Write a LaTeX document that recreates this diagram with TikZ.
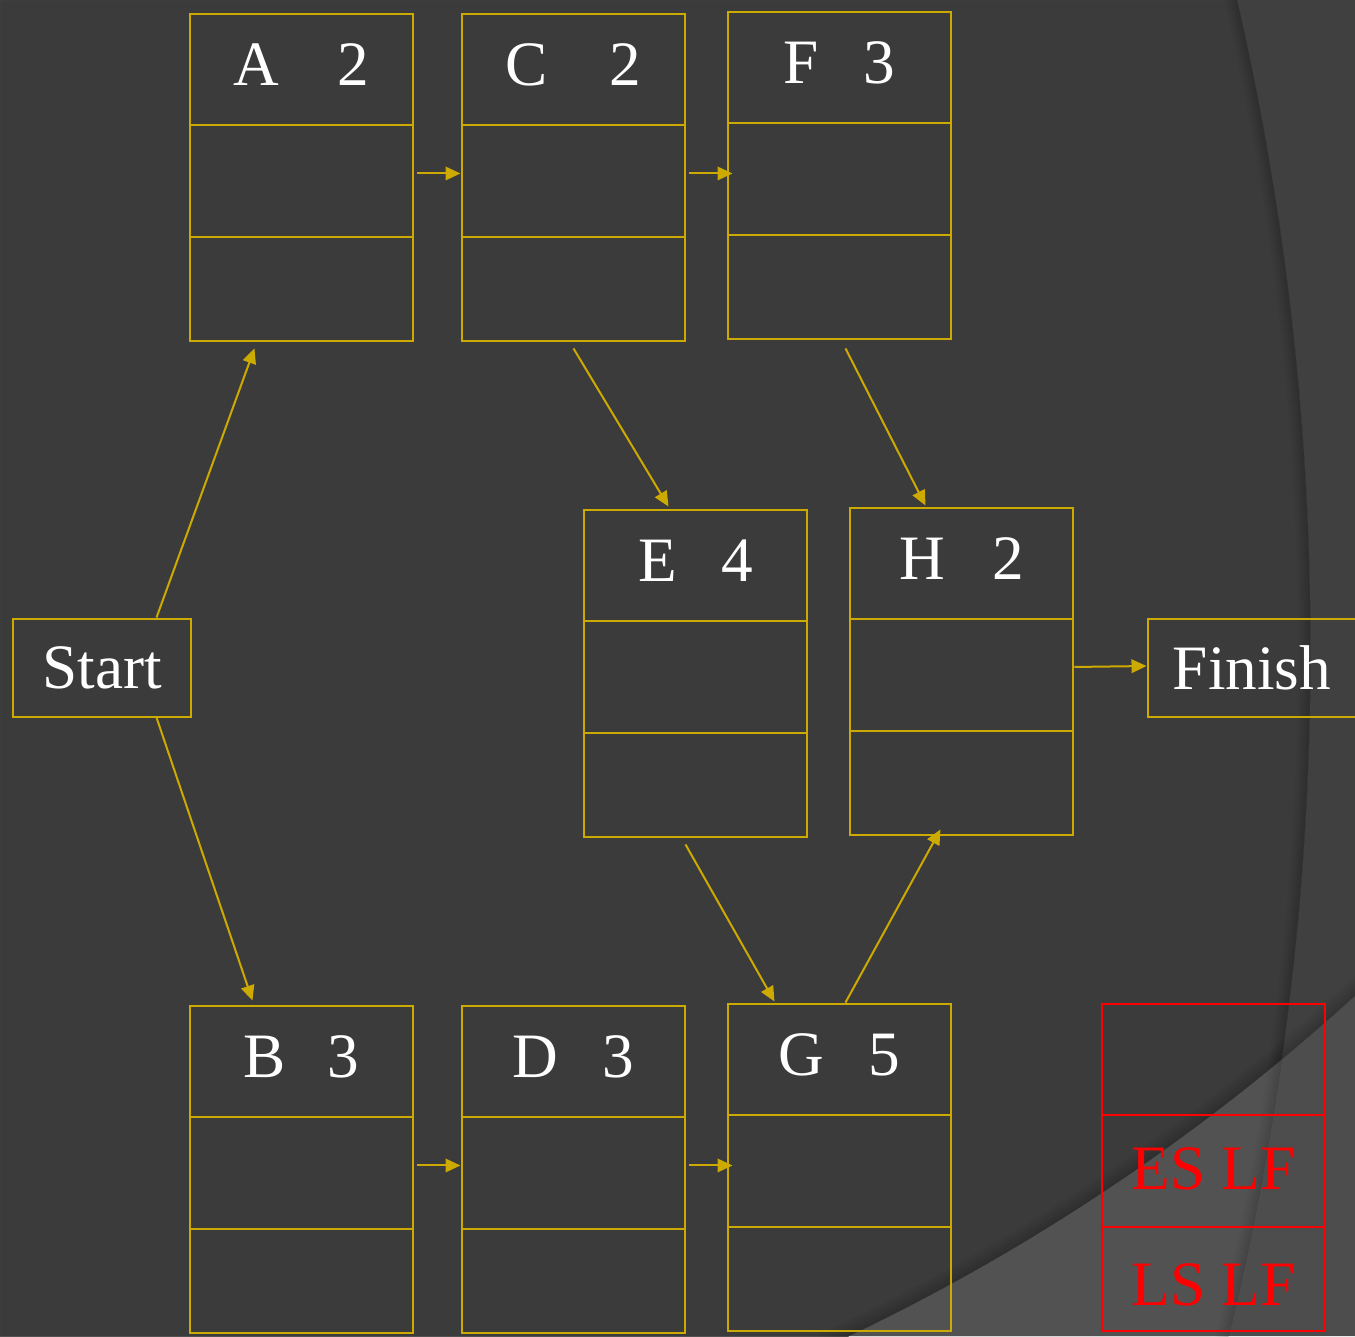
\documentclass[tikz,border=0pt]{standalone}
\usepackage{fontspec}
\setmainfont{Liberation Serif}
\usetikzlibrary{arrows.meta,calc}
\definecolor{bgA}{RGB}{59,59,59}
\definecolor{bgB}{RGB}{64,64,64}
\definecolor{bgC}{RGB}{82,82,82}
\definecolor{bgD}{RGB}{77,77,77}
\definecolor{gold}{RGB}{205,170,0}
\definecolor{legred}{RGB}{255,0,0}
\begin{document}
\begin{tikzpicture}[x=0.02cm,y=-0.02cm,
  actbox/.style={draw=gold,line width=0.04cm,minimum width=4.48cm,minimum height=6.56cm,inner sep=0pt,anchor=north west},
  legbox/.style={draw=legred,line width=0.04cm,minimum width=4.48cm,minimum height=6.56cm,inner sep=0pt,anchor=north west},
  divline/.style={draw=gold,line width=0.04cm},
  legline/.style={draw=legred,line width=0.04cm},
  title/.style={text=white,font=\fontsize{36}{40}\selectfont,anchor=base,inner sep=0pt},
  legtext/.style={text=legred,font=\fontsize{36}{40}\selectfont,anchor=base,inner sep=0pt},
  endbox/.style={draw=gold,line width=0.04cm,minimum height=1.96cm,inner sep=0pt,text=white,font=\fontsize{36}{40}\selectfont},
  arr/.style={draw=gold,line width=0.04cm,-{Triangle[length=0.3cm,width=0.27cm]}},
]
\useasboundingbox (0,0) rectangle (1355,1336);
\clip (0,0) rectangle (1355,1336);
% background
\fill[bgB] (0,0) rectangle (1355,1336);
\fill[bgD,even odd rule] (0,0) rectangle (1355,1336) (-45,-542) circle [radius=41.6cm];
\begin{scope}
  \clip (-1581,650) circle [radius=57.84cm];
  \fill[bgA] (0,0) rectangle (1355,1336);
  \fill[bgC,even odd rule] (0,0) rectangle (1355,1336) (-45,-542) circle [radius=41.6cm];
  \foreach \w in {0.08,0.16,0.24,0.32,0.4,0.5}
    \draw[black,opacity=0.025,line width=\w cm] (-1581,650) circle [radius=57.84cm];
\end{scope}
\begin{scope}
  \clip (-45,-542) circle [radius=41.6cm];
  \foreach \w in {0.1,0.2,0.3,0.4,0.5,0.6}
    \draw[black,opacity=0.025,line width=\w cm] (-45,-542) circle [radius=41.6cm];
\end{scope}
% activity boxes
\foreach \n/\x/\y/\t in {
  A/188.5/12.5/{A\hspace{0.92em}2},
  C/460.5/12.5/{C\hspace{0.98em}2},
  F/726.5/10.5/{F\hspace{0.7em}3},
  E/582.5/508.5/{E\hspace{0.7em}4},
  H/848.5/506.5/{H\hspace{0.75em}2},
  B/188.5/1004.5/{B\hspace{0.67em}3},
  D/460.5/1004.5/{D\hspace{0.7em}3},
  G/726.5/1002.5/{G\hspace{0.7em}5}}{
  \node[actbox] (\n) at (\x,\y) {};
  \draw[divline] ($(\n.north west)+(0,112)$) -- ($(\n.north east)+(0,112)$);
  \draw[divline] ($(\n.north west)+(0,224)$) -- ($(\n.north east)+(0,224)$);
  \node[title] (\n-t) at ($(\n.north)+(0,73)$) {\t};
}
% start / finish
\node[endbox,minimum width=3.58cm] (Start) at (102,667.5) {Start};
\node[endbox,minimum width=4.18cm] (Finish) at (1252,667.5) {Finish};
% legend
\node[legbox] (L) at (1100.5,1002.5) {};
\draw[legline] ($(L.north west)+(0,112)$) -- ($(L.north east)+(0,112)$);
\draw[legline] ($(L.north west)+(0,224)$) -- ($(L.north east)+(0,224)$);
\node[legtext] (L-es) at ($(L.north)+(0,187)$) {ES LF};
\node[legtext] (L-ls) at ($(L.north)+(0,303)$) {LS LF};
% connectors
\draw[arr] ($(A.east)+(3,-4)$) -- ($(C.west)+(0,-4)$);
\draw[arr] ($(C.east)+(3,-4)$) -- ($(F.west)+(6,-2)$);
\draw[arr] ($(B.east)+(3,-4)$) -- ($(D.west)+(0,-4)$);
\draw[arr] ($(D.east)+(3,-4)$) -- ($(G.west)+(6,-2)$);
\draw[arr] ($(Start.north)+(54.5,0)$) -- ($(A.south)+(-47,6)$);
\draw[arr] ($(Start.south)+(54.5,0)$) -- ($(B.north)+(-49,-4)$);
\draw[arr] ($(C.south)+(0,6)$) -- ($(E.north)+(-27,-2)$);
\draw[arr] ($(F.south)+(6,8)$) -- ($(H.north)+(-36,-1)$);
\draw[arr] ($(E.south)+(-10,6)$) -- ($(G.north)+(-65,-1)$);
\draw[arr] ($(G.north)+(6,0)$) -- ($(H.south)+(-21,-7)$);
\draw[arr] ($(H.east)+(0,-4.5)$) -- ($(Finish.west)+(0,-1.5)$);
\end{tikzpicture}
\end{document}
